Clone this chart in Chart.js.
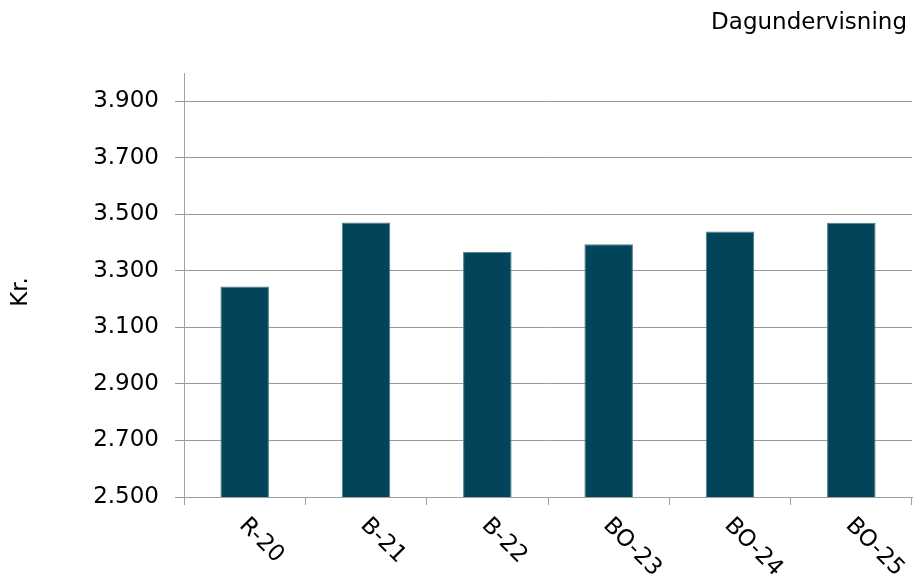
<!DOCTYPE html>
<html>
<head>
<meta charset="utf-8">
<script src="https://cdn.jsdelivr.net/npm/chart.js@4"></script>
<style>
  html, body { margin: 0; padding: 0; background: #fff; }
  #wrap { width: 913px; height: 577px; }
</style>
</head>
<body>
<div id="wrap"><canvas id="chart"></canvas></div>
<script>
const categories = ['R-20', 'B-21', 'B-22', 'BO-23', 'BO-24', 'BO-25'];
const values = [3245, 3471, 3368, 3394, 3439, 3470];
const yTicks = [2500, 2700, 2900, 3100, 3300, 3500, 3700, 3900];
const yMin = 2500;
const yMax = 4000;
const titleText = 'Dagundervisning';
const yTitle = 'Kr.';

const FONT = 'DejaVu Sans';
const SIZE = 23;

function fmt(v) {
  return String(v).replace(/\B(?=(\d{3})+(?!\d))/g, '.');
}

// title top right, y title and rotated x labels
const extras = {
  id: 'extras',
  afterDraw(chart) {
    const ctx = chart.ctx;
    const xs = chart.scales.x;
    ctx.save();
    ctx.fillStyle = '#000';
    ctx.font = SIZE + 'px "' + FONT + '"';
    ctx.textAlign = 'right';
    ctx.textBaseline = 'middle';
    ctx.fillText(titleText, 907, 23);

    ctx.save();
    ctx.translate(21, 292);
    ctx.rotate(-Math.PI / 2);
    ctx.textAlign = 'center';
    ctx.fillText(yTitle, 0, 0);
    ctx.restore();

    ctx.textAlign = 'left';
    categories.forEach((c, i) => {
      const x = xs.getPixelForValue(i);
      ctx.save();
      ctx.translate(x - 2, chart.chartArea.bottom + 25);
      ctx.rotate(Math.PI / 4);
      ctx.fillText(c, 0, 0);
      ctx.restore();
    });
    ctx.restore();
  }
};

new Chart(document.getElementById('chart'), {
  type: 'bar',
  data: {
    labels: categories,
    datasets: [{
      data: values,
      backgroundColor: '#02455B',
      borderColor: '#4b7d8c',
      borderWidth: 1,
      barPercentage: 0.4,
      categoryPercentage: 1
    }]
  },
  options: {
    responsive: true,
    maintainAspectRatio: false,
    animation: false,
    layout: { padding: { top: 73, right: 1, left: 0, bottom: 0 } },
    plugins: {
      legend: { display: false },
      tooltip: { enabled: false }
    },
    scales: {
      x: {
        grid: {
          offset: true,
          drawOnChartArea: false,
          drawTicks: true,
          tickLength: 8,
          color: '#a0a0a0'
        },
        border: { color: '#a0a0a0' },
        ticks: { display: false },
        afterFit(scale) { scale.height = 80; }
      },
      y: {
        min: yMin,
        max: yMax,
        afterBuildTicks(scale) {
          scale.ticks = yTicks.map(v => ({ value: v }));
        },
        grid: {
          color: '#999',
          tickLength: 9
        },
        border: { color: '#a0a0a0' },
        ticks: {
          color: '#000',
          padding: 16,
          font: { family: FONT, size: SIZE },
          callback: v => fmt(v)
        },
        afterFit(scale) { scale.width = 184; }
      }
    }
  },
  plugins: [extras]
});
</script>
</body>
</html>
